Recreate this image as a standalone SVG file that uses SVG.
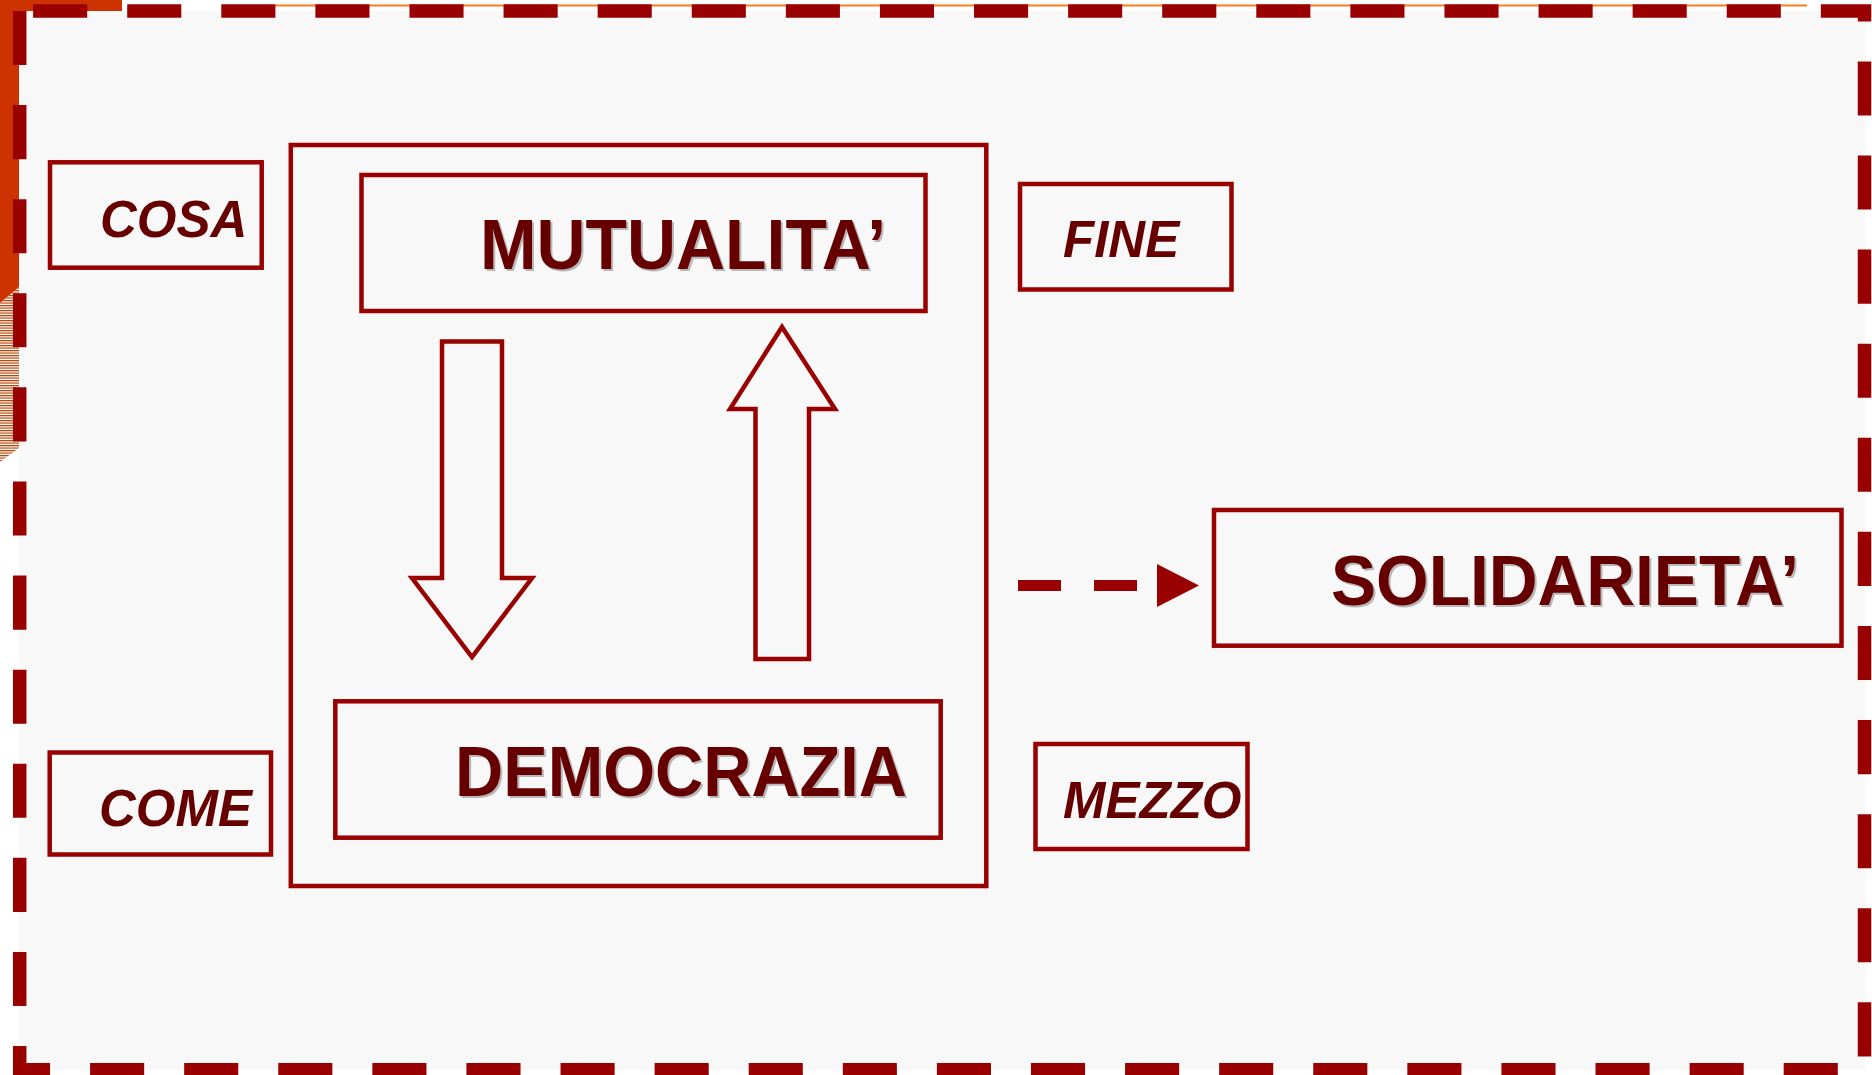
<svg xmlns="http://www.w3.org/2000/svg" width="1872" height="1075" viewBox="0 0 1872 1075">
<style>
.box{fill:none;stroke:#990000;stroke-width:4.5}
.big{font-family:"Liberation Sans",Arial,sans-serif;font-weight:bold;font-size:71px;fill:#660000}
.shadow{font-family:"Liberation Sans",Arial,sans-serif;font-weight:bold;font-size:71px;fill:#b8b8b8}
.lbl{font-family:"Liberation Sans",Arial,sans-serif;font-weight:bold;font-style:italic;font-size:51px;fill:#660000}
.arrow{fill:none;stroke:#990000;stroke-width:4.5;stroke-linejoin:miter}
</style>
<defs>
<pattern id="stripes" width="6" height="2.5" patternUnits="userSpaceOnUse">
<rect width="6" height="1.2" fill="#b04000"/>
</pattern>
<marker id="tri" markerUnits="userSpaceOnUse" markerWidth="44" markerHeight="44" refX="0" refY="21.5" orient="auto" viewBox="0 0 44 44">
<path d="M0,0 L42,21.5 L0,43 Z" fill="#990000"/>
</marker>
</defs>
<rect x="0" y="0" width="1872" height="1075" fill="#ffffff"/>
<g id="decor">
<rect x="0" y="0" width="122" height="11" fill="#cc3300"/>
<polygon points="0,0 19,0 19,287 0,303" fill="#cc3300"/>
<polygon points="0,303 19,287 19,448 0,462" fill="url(#stripes)"/>
<rect x="19" y="11" width="1846" height="1059" fill="#f8f8f8"/>
<line x1="275" y1="5.5" x2="1807" y2="5.5" stroke="#ff7a1a" stroke-width="2.2"/>
<path d="M19.7,11 L19.7,1069.7 L1864.5,1069.7 L1864.5,11 Z" fill="none" stroke="#990000" stroke-width="13.5" stroke-dasharray="54.09 40"/>
</g>
<g id="cosa">
<rect class="box" x="50" y="162.3" width="211.7" height="105.4"/>
<text class="lbl" x="100" y="237">COSA</text>
</g>
<g id="come">
<rect class="box" x="49.7" y="752.5" width="221.3" height="102"/>
<text class="lbl" x="99" y="826">COME</text>
</g>
<g id="fine">
<rect class="box" x="1020" y="184" width="211.5" height="105.5"/>
<text class="lbl" x="1063" y="257">FINE</text>
</g>
<g id="mezzo">
<rect class="box" x="1035.5" y="744" width="212" height="105"/>
<text class="lbl" x="1063" y="818">MEZZO</text>
</g>
<g id="frame">
<rect class="box" x="290.8" y="145" width="695.5" height="741"/>
</g>
<g id="mutualita">
<rect class="box" x="361.5" y="175" width="564" height="136"/>
<text class="shadow" x="482" y="271" textLength="406" lengthAdjust="spacingAndGlyphs">MUTUALITA’</text>
<text class="big" x="480" y="269" textLength="406" lengthAdjust="spacingAndGlyphs">MUTUALITA’</text>
</g>
<g id="democrazia">
<rect class="box" x="335.3" y="701.3" width="605.4" height="136.4"/>
<text class="shadow" x="457" y="798" textLength="452" lengthAdjust="spacingAndGlyphs">DEMOCRAZIA</text>
<text class="big" x="455" y="796" textLength="452" lengthAdjust="spacingAndGlyphs">DEMOCRAZIA</text>
</g>
<g id="solidarieta">
<rect class="box" x="1214" y="510" width="627.5" height="135.7"/>
<text class="shadow" x="1333" y="607" textLength="468" lengthAdjust="spacingAndGlyphs">SOLIDARIETA’</text>
<text class="big" x="1331" y="605" textLength="468" lengthAdjust="spacingAndGlyphs">SOLIDARIETA’</text>
</g>
<g id="connectors">
<polygon class="arrow" points="442,341.5 502,341.5 502,578 532,578 472,657 412,578 442,578"/>
<polygon class="arrow" points="782,327 835,409 809,409 809,659 755.5,659 755.5,409 730,409"/>
<line x1="1018" y1="585.5" x2="1157" y2="585.5" stroke="#990000" stroke-width="11" stroke-dasharray="43 33" marker-end="url(#tri)"/>
</g>
</svg>
